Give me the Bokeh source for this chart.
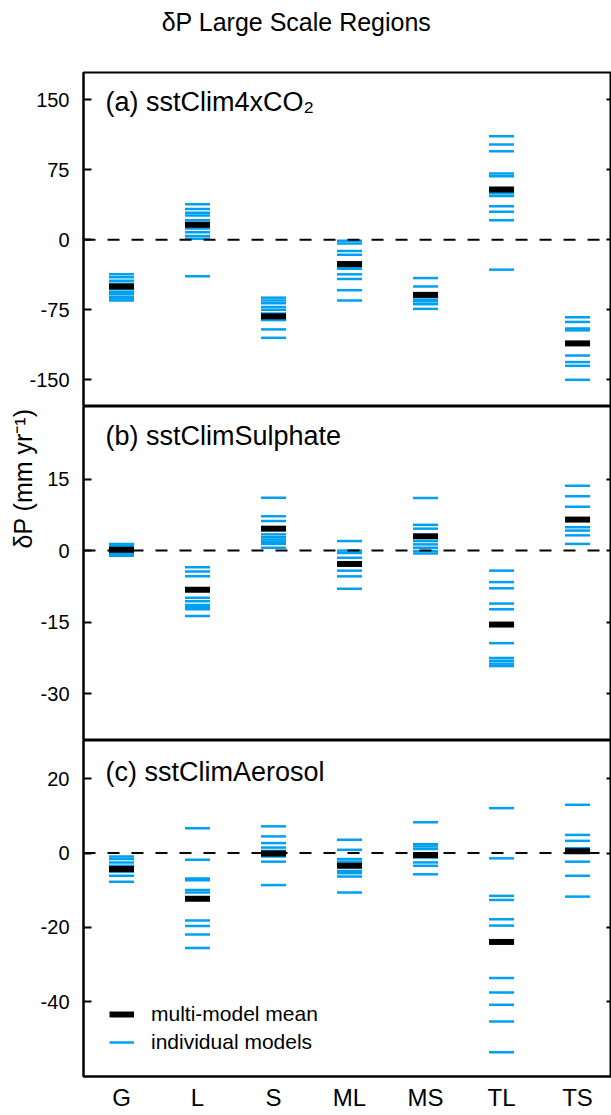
import math
from bokeh.plotting import figure
from bokeh.models import (Range1d, FixedTicker, Span, Label, Legend, LegendItem,
                          LinearAxis, ColumnDataSource, Title, CustomLabelingPolicy)
from bokeh.layouts import column
from bokeh.embed import file_html
from bokeh.resources import INLINE

# ---------------- data ----------------
regions = ["G", "L", "S", "ML", "MS", "TL", "TS"]

# (a) sstClim4xCO2
a_G = [-37, -40, -44, -47, -53, -56, -58, -61, -63, -65]
a_L = [38, 33, 29, 26, 21, 17, 12, 8, 4, 1, -39]
a_S = [-62, -65, -68, -72, -75, -79, -86, -96, -105]
a_ML = [-1, -4, -12, -16, -29, -31, -37, -42, -54, -65]
a_MS = [-41, -50, -61, -64, -66, -69, -74]
a_TL = [111, 102, 95, 71, 68, 50, 47, 36, 30, 21, -32]
a_TS = [-83, -88, -95, -97, -124, -131, -135, -150]
a_mean = [-50, 16, -82, -26, -59, 54, -111]

# (b) sstClimSulphate
b_G = [1.4, 1.1, 0.8, 0.5, -0.2, -0.5, -0.8, -1.1]
b_L = [-3.5, -4.4, -5.4, -9.9, -10.6, -11.4, -11.8, -12.3, -13.7]
b_S = [11.1, 7.2, 6.2, 3.4, 2.8, 2.3, 1.8, 1.4, 0.6]
b_ML = [2.0, 0.0, -0.5, -1.5, -4.2, -5.4, -8.0]
b_MS = [11.0, 5.4, 4.6, 2.0, 1.3, 0.6, -0.1, -0.6]
b_TL = [-4.2, -6.6, -7.9, -11.1, -12.3, -19.4, -22.5, -23.1, -23.7, -24.2]
b_TS = [13.6, 11.4, 9.2, 4.9, 4.2, 3.2, 1.4]
b_mean = [0.2, -8.2, 4.6, -2.8, 3.0, -15.5, 6.5]

# (c) sstClimAerosol
c_G = [-0.9, -1.6, -2.5, -3.4, -5.0, -6.1, -7.7]
c_L = [6.7, -1.8, -6.8, -7.3, -9.9, -10.6, -18.1, -19.6, -21.9, -25.5]
c_S = [7.2, 4.5, 2.7, 1.5, 0.6, -0.9, -2.3, -8.6]
c_ML = [3.6, 0.9, -1.6, -2.3, -4.8, -5.4, -6.3, -10.6]
c_MS = [8.3, 2.4, 1.8, 1.1, -1.2, -2.5, -3.4, -5.7]
c_TL = [12.1, -1.4, -11.5, -12.6, -17.8, -19.5, -33.6, -37.5, -40.8, -45.3, -53.6]
c_TS = [13.0, 4.9, 3.3, 1.3, -2.3, -6.1, -11.7]
c_mean = [-4.3, -12.3, -0.1, -3.4, -0.5, -23.9, 0.5]

a_ticks = [-150, -75, 0, 75, 150]
b_ticks = [-30, -15, 0, 15]
c_ticks = [-40, -20, 0, 20]

# ---------------- style ----------------
FONT = "Liberation Sans"
BLUE = "#00A0F0"
HALF = 0.165
W = 611
TITLE_H = 50


def seg_source(groups):
    x0, x1, y = [], [], []
    for i, vals in enumerate(groups):
        for v in vals:
            x0.append(i + 1 - HALF)
            x1.append(i + 1 + HALF)
            y.append(v)
    return ColumnDataSource(dict(x0=x0, x1=x1, y=y))


def make_panel(height, yr, ticks, models, means, label, top=0, bottom=0, xaxis=False):
    p = figure(width=W, height=height, x_range=Range1d(0.5, 7.447), y_range=Range1d(*yr),
               output_backend="svg", toolbar_location=None,
               min_border_left=83, min_border_right=0,
               min_border_top=top, min_border_bottom=bottom,
               x_axis_location="below" if xaxis else None)
    p.grid.visible = False
    p.outline_line_color = "black"
    p.outline_line_width = 2
    p.outline_line_alpha = 1

    ya = p.yaxis[0]
    ya.ticker = FixedTicker(ticks=ticks)
    ya.major_label_overrides = {t: str(t) for t in ticks}
    ya.major_tick_in = 8
    ya.major_tick_out = 0
    ya.major_tick_line_width = 2
    ya.axis_line_width = 2
    ya.minor_tick_line_color = None
    ya.major_label_standoff = 14
    ya.major_label_text_font = FONT
    ya.major_label_text_font_size = "20px"
    ya.major_label_text_color = "black"

    ra = LinearAxis(ticker=FixedTicker(ticks=ticks), major_tick_in=5, major_tick_out=0,
                    major_tick_line_width=2, axis_line_color=None,
                    minor_tick_line_color=None, major_label_text_font_size="0px",
                    major_label_standoff=0,
                    major_label_policy=CustomLabelingPolicy(
                        code="for (const i of indices) { indices.unset(i) }"))
    p.add_layout(ra, "right")

    if xaxis:
        xa = p.xaxis[0]
        xa.ticker = FixedTicker(ticks=list(range(1, 8)))
        xa.major_label_overrides = {i + 1: r for i, r in enumerate(regions)}
        xa.major_tick_in = 0
        xa.major_tick_out = 0
        xa.minor_tick_line_color = None
        xa.axis_line_width = 2
        xa.major_label_standoff = 7
        xa.major_label_text_font = FONT
        xa.major_label_text_font_size = "24px"
        xa.major_label_text_color = "black"

    p.add_layout(Span(location=0, dimension="width", line_color="black",
                      line_width=2, line_dash="12 12"))

    r_ind = p.segment(x0="x0", x1="x1", y0="y", y1="y", source=seg_source(models),
                      line_color=BLUE, line_width=2.5)
    r_mean = p.segment(x0="x0", x1="x1", y0="y", y1="y",
                       source=seg_source([[m] for m in means]),
                       line_color="black", line_width=6)

    p.add_layout(Label(x=22, y=305, x_units="screen", y_units="screen", text=label,
                       text_font=FONT, text_font_size="27px", text_baseline="middle",
                       text_color="black"))
    return p, r_ind, r_mean


# title strip (its frame is aligned with the panels' frames, starting at x=83)
pt = figure(width=W, height=TITLE_H, x_range=Range1d(0, 1), y_range=Range1d(0, 1),
            output_backend="svg", toolbar_location=None, x_axis_location=None,
            y_axis_location=None, min_border=0)
pt.grid.visible = False
pt.outline_line_color = None
pt.add_layout(Label(x=213, y=TITLE_H - 21, x_units="screen", y_units="screen",
                    text="\u03b4P Large Scale Regions", text_font=FONT,
                    text_font_size="25px", text_align="center", text_baseline="middle",
                    text_color="black"))

p1, _, _ = make_panel(406 - TITLE_H, (-178.6, 179.25), a_ticks,
                      [a_G, a_L, a_S, a_ML, a_MS, a_TL, a_TS], a_mean,
                      "(a) sstClim4xCO\u2082", top=72 - TITLE_H)
p2, _, _ = make_panel(334, (-39.8, 30.2), b_ticks,
                      [b_G, b_L, b_S, b_ML, b_MS, b_TL, b_TS], b_mean,
                      "(b) sstClimSulphate")
p3, r_ind, r_mean = make_panel(375, (-60.1, 30.3), c_ticks,
                               [c_G, c_L, c_S, c_ML, c_MS, c_TL, c_TS], c_mean,
                               "(c) sstClimAerosol", bottom=39, xaxis=True)

p2.add_layout(Title(text="\u03b4P (mm yr\u207b\u00b9)", align="left", offset=192,
                    standoff=2, text_font=FONT, text_font_size="25px",
                    text_font_style="normal", text_color="black"), "left")

legend = Legend(items=[LegendItem(label="multi-model mean", renderers=[r_mean]),
                       LegendItem(label="individual models", renderers=[r_ind])],
                location=(26, 22), border_line_color=None, background_fill_alpha=0,
                padding=0, margin=0, spacing=4, glyph_width=25, glyph_height=20,
                label_standoff=17, label_text_font=FONT, label_text_font_size="21px",
                label_text_color="black", label_height=20)
p3.add_layout(legend)

layout = column(pt, p1, p2, p3, spacing=0)
open("out.html", "w").write(file_html(layout, INLINE))
